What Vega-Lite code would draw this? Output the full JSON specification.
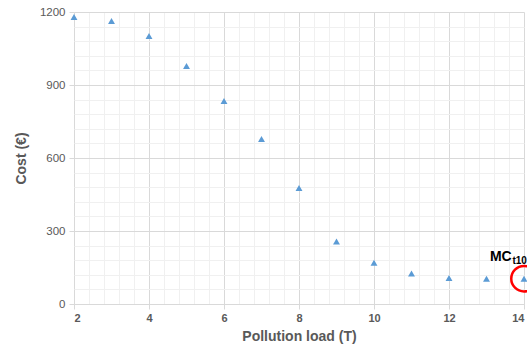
{
  "$schema": "https://vega.github.io/schema/vega-lite/v6.json",
  "autosize": "none",
  "width": 450,
  "height": 292,
  "padding": {"left": 74, "top": 12, "right": 3, "bottom": 43},
  "background": "white",
  "config": {"view": {"stroke": null}, "font": "Liberation Sans"},
  "datasets": {
    "pts": [
      {"load": 2, "cost": 1179},
      {"load": 3, "cost": 1163},
      {"load": 4, "cost": 1101},
      {"load": 5, "cost": 978},
      {"load": 6, "cost": 834},
      {"load": 7, "cost": 678},
      {"load": 8, "cost": 477},
      {"load": 9, "cost": 257},
      {"load": 10, "cost": 170},
      {"load": 11, "cost": 125},
      {"load": 12, "cost": 107},
      {"load": 13, "cost": 104},
      {"load": 14, "cost": 104}
    ]
  },
  "layer": [
    {
      "data": {"name": "pts"},
      "mark": {"type": "point", "opacity": 0},
      "encoding": {
        "x": {"field": "load", "type": "quantitative", "scale": {"domain": [2, 14], "nice": false, "zero": false},
          "axis": {"orient": "top", "values": [2.4,2.8,3.2,3.6,4.4,4.8,5.2,5.6,6.4,6.8,7.2,7.6,8.4,8.8,9.2,9.6,10.4,10.8,11.2,11.6,12.4,12.8,13.2,13.6], "grid": true, "gridColor": "#f0f0f0", "gridWidth": 1, "labels": false, "ticks": false, "domain": false, "title": null}},
        "y": {"field": "cost", "type": "quantitative", "scale": {"domain": [0, 1200], "nice": false},
          "axis": {"orient": "right", "values": [60,120,180,240,360,420,480,540,660,720,780,840,960,1020,1080,1140], "grid": true, "gridColor": "#f0f0f0", "gridWidth": 1, "labels": false, "ticks": false, "domain": false, "title": null}}
      }
    },
    {
      "layer": [
        {
          "data": {"name": "pts"},
          "mark": {"type": "point", "shape": "triangle-up", "filled": true, "color": "#5B9BD5", "size": 48, "opacity": 1},
          "encoding": {
            "x": {"field": "load", "type": "quantitative", "scale": {"domain": [2, 14], "nice": false, "zero": false},
              "axis": {"values": [2,4,6,8,10,12,14], "format": "d", "grid": true, "gridColor": "#d9d9d9", "domainColor": "#d9d9d9", "tickColor": "#d9d9d9", "tickSize": 5, "labelColor": "#595959", "labelFontSize": 11, "labelFont": "Liberation Sans", "labelFontWeight": "bold", "labelPadding": 3, "title": "Pollution load (T)", "titleFontSize": 14, "titleColor": "#595959", "titleFont": "Liberation Sans", "titleFontWeight": "bold", "titlePadding": 6}},
            "y": {"field": "cost", "type": "quantitative", "scale": {"domain": [0, 1200], "nice": false},
              "axis": {"values": [0,300,600,900,1200], "format": "d", "grid": true, "gridColor": "#d9d9d9", "domain": false, "tickColor": "#d9d9d9", "tickSize": 5, "labelColor": "#595959", "labelFontSize": 11.5, "labelFont": "Liberation Sans", "labelPadding": 4, "title": "Cost (€)", "titleFontSize": 14, "titleColor": "#595959", "titleFont": "Liberation Sans", "titleFontWeight": "bold", "titlePadding": 11}}
          }
        },
        {
          "data": {"values": [{"load": 14, "cost": 104}]},
          "mark": {"type": "point", "shape": "circle", "filled": false, "stroke": "#ff0000", "strokeWidth": 2.5, "size": 650, "opacity": 1, "clip": false},
          "encoding": {
            "x": {"field": "load", "type": "quantitative"},
            "y": {"field": "cost", "type": "quantitative"}
          }
        },
        {
          "data": {"values": [{"load": 13.09, "cost": 177, "label": "MC"}]},
          "mark": {"type": "text", "align": "left", "baseline": "alphabetic", "fontSize": 14, "fontWeight": "bold", "color": "#000000", "font": "Liberation Sans"},
          "encoding": {
            "x": {"field": "load", "type": "quantitative"},
            "y": {"field": "cost", "type": "quantitative"},
            "text": {"field": "label"}
          }
        },
        {
          "data": {"values": [{"load": 13.69, "cost": 163, "label": "t10"}]},
          "mark": {"type": "text", "align": "left", "baseline": "alphabetic", "fontSize": 10, "fontWeight": "bold", "color": "#000000", "font": "Liberation Sans"},
          "encoding": {
            "x": {"field": "load", "type": "quantitative"},
            "y": {"field": "cost", "type": "quantitative"},
            "text": {"field": "label"}
          }
        }
      ]
    }
  ],
  "resolve": {"scale": {"x": "independent", "y": "independent"}}
}
